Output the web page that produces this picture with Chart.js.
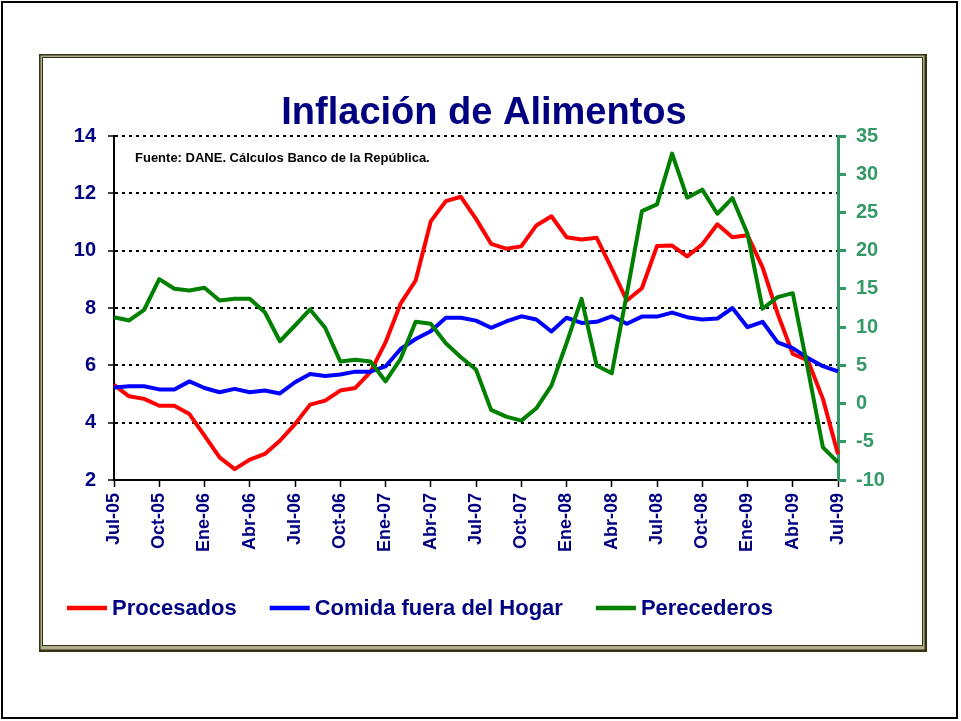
<!DOCTYPE html>
<html>
<head>
<meta charset="utf-8">
<script src="https://cdn.jsdelivr.net/npm/chart.js@4.4.0/dist/chart.umd.min.js"></script>
<style>
html, body { margin: 0; padding: 0; background: #fff; }
canvas { display: block; }
</style>
</head>
<body>
<canvas id="grafico" width="961" height="721"></canvas>
<script>
// Meses jul-05 a jul-09
var meses = [
    "Jul-05", "Ago-05", "Sep-05", "Oct-05", "Nov-05", "Dic-05",
    "Ene-06", "Feb-06", "Mar-06", "Abr-06", "May-06", "Jun-06",
    "Jul-06", "Ago-06", "Sep-06", "Oct-06", "Nov-06", "Dic-06",
    "Ene-07", "Feb-07", "Mar-07", "Abr-07", "May-07", "Jun-07",
    "Jul-07", "Ago-07", "Sep-07", "Oct-07", "Nov-07", "Dic-07",
    "Ene-08", "Feb-08", "Mar-08", "Abr-08", "May-08", "Jun-08",
    "Jul-08", "Ago-08", "Sep-08", "Oct-08", "Nov-08", "Dic-08",
    "Ene-09", "Feb-09", "Mar-09", "Abr-09", "May-09", "Jun-09",
    "Jul-09"
];

// Eje izquierdo
var procesados = [
    5.32, 4.92, 4.83, 4.59, 4.59, 4.30, 3.55, 2.79, 2.38, 2.71,
    2.91, 3.37, 3.95, 4.63, 4.77, 5.12, 5.21, 5.76, 6.80, 8.15,
    8.96, 11.02, 11.73, 11.88, 11.11, 10.24, 10.07, 10.15, 10.88, 11.20,
    10.47, 10.39, 10.45, 9.37, 8.26, 8.69, 10.16, 10.18, 9.80, 10.22,
    10.92, 10.47, 10.54, 9.42, 7.80, 6.40, 6.17, 4.83, 2.90
];
var comidaFuera = [
    5.23, 5.27, 5.27, 5.16, 5.16, 5.44, 5.21, 5.06, 5.18, 5.06,
    5.12, 5.02, 5.41, 5.70, 5.63, 5.68, 5.78, 5.78, 5.96, 6.57,
    6.92, 7.19, 7.66, 7.66, 7.56, 7.31, 7.53, 7.71, 7.60, 7.18,
    7.66, 7.48, 7.52, 7.71, 7.45, 7.70, 7.70, 7.84, 7.68, 7.60,
    7.63, 8.00, 7.33, 7.52, 6.80, 6.60, 6.26, 5.97, 5.79
];
// Eje derecho
var perecederos = [
    11.30, 10.87, 12.27, 16.27, 15.02, 14.80, 15.15, 13.48, 13.70, 13.70,
    11.95, 8.15, 10.21, 12.31, 9.91, 5.50, 5.72, 5.50, 2.91, 5.85,
    10.69, 10.43, 7.89, 6.06, 4.45, -0.83, -1.71, -2.23, -0.62, 2.35,
    7.89, 13.70, 4.97, 3.96, 14.36, 25.18, 26.05, 32.69, 26.93, 27.98,
    24.83, 26.88, 22.22, 12.40, 13.92, 14.44, 4.54, -5.73, -7.69
];

var ejeIzq = [2, 14, 2];    // min, max, paso
var ejeDer = [-10, 35, 5];

var AZUL_TEXTO = "#000080",
    VERDE_EJE = "#339966",
    FUENTE = "Arial, 'Liberation Sans', sans-serif";

// Marcos, titulo, fuente y leyenda
var decoracion = {
    id: "decoracion",
    beforeDraw: function(chart) {
        var c = chart.ctx;
        c.save();
        c.fillStyle = "#fff";
        c.fillRect(0, 0, chart.width, chart.height);
        c.strokeStyle = "#000";
        c.lineWidth = 2;
        c.strokeRect(2, 2, 955, 716);
        // caja interior con borde doble
        c.fillStyle = "#333311";
        c.fillRect(39, 54, 888, 598);
        c.fillStyle = "#b0b090";
        c.fillRect(40.5, 55.5, 884, 594);
        c.fillStyle = "#333311";
        c.fillRect(42, 57, 881, 589);
        c.fillStyle = "#fff";
        c.fillRect(43, 58, 879, 587);
        c.restore();
    },
    afterDraw: function(chart) {
        var c = chart.ctx, x, i, ds, w;
        c.save();
        c.fillStyle = AZUL_TEXTO;
        c.textAlign = "center";
        c.textBaseline = "alphabetic";
        c.font = "bold 38px " + FUENTE;
        c.fillText("Inflación de Alimentos", 484, 124);

        c.fillStyle = "#000";
        c.textAlign = "left";
        c.font = "bold 13px " + FUENTE;
        c.fillText("Fuente: DANE. Cálculos Banco de la República.", 135, 162);

        // leyenda
        c.font = "bold 22px " + FUENTE;
        c.textBaseline = "middle";
        x = 67;
        for (i = 0; i < chart.data.datasets.length; i++) {
            ds = chart.data.datasets[i];
            c.strokeStyle = ds.borderColor;
            c.lineWidth = 4.5;
            c.beginPath();
            c.moveTo(x, 608);
            c.lineTo(x + 40, 608);
            c.stroke();
            c.fillStyle = AZUL_TEXTO;
            c.fillText(ds.label, x + 45, 609);
            w = c.measureText(ds.label).width;
            x = x + 45 + w + 33;
        }
        c.restore();
    }
};

new Chart(document.getElementById("grafico"), {
    type: "line",
    data: {
        labels: meses,
        datasets: [
            { label: "Procesados", data: procesados, borderColor: "#ff0000", yAxisID: "y", order: 3 },
            { label: "Comida fuera del Hogar", data: comidaFuera, borderColor: "#0000ff", yAxisID: "y", order: 2 },
            { label: "Perecederos", data: perecederos, borderColor: "#008000", yAxisID: "y1", order: 1 }
        ]
    },
    options: {
        responsive: false,
        devicePixelRatio: 1,
        animation: false,
        layout: { padding: { left: 74, right: 73, top: 136, bottom: 166 } },
        elements: {
            line: { borderWidth: 4, tension: 0, borderJoinStyle: "round" },
            point: { radius: 0 }
        },
        plugins: {
            legend: { display: false },
            title: { display: false },
            tooltip: { enabled: false }
        },
        scales: {
            x: {
                type: "category",
                grid: {
                    drawOnChartArea: false,
                    tickLength: 7,
                    tickWidth: 1.5,
                    tickColor: function(ctx) { return ctx.index % 3 === 0 ? "#000" : "rgba(0,0,0,0)"; }
                },
                border: { color: "#000", width: 2 },
                ticks: {
                    autoSkip: false,
                    maxRotation: 90,
                    minRotation: 90,
                    padding: 6,
                    color: AZUL_TEXTO,
                    font: { family: FUENTE, weight: "bold", size: 18 },
                    callback: function(v, i) { return i % 3 === 0 ? meses[i] : ""; }
                },
                afterFit: function(s) { s.height = 75; }
            },
            y: {
                position: "left",
                min: ejeIzq[0],
                max: ejeIzq[1],
                grid: {
                    color: "#000",
                    lineWidth: 2,
                    tickLength: 6,
                    tickWidth: 1.5,
                    tickColor: "#000"
                },
                border: { color: "#000", width: 2, dash: [3, 4] },
                ticks: {
                    stepSize: ejeIzq[2],
                    padding: 12,
                    color: AZUL_TEXTO,
                    font: { family: FUENTE, weight: "bold", size: 20 }
                },
                afterFit: function(s) { s.width = 40; }
            },
            y1: {
                position: "right",
                min: ejeDer[0],
                max: ejeDer[1],
                grid: {
                    drawOnChartArea: false,
                    tickLength: 8,
                    tickWidth: 3,
                    tickColor: VERDE_EJE
                },
                border: { color: VERDE_EJE, width: 3 },
                ticks: {
                    stepSize: ejeDer[2],
                    padding: 10,
                    color: VERDE_EJE,
                    font: { family: FUENTE, weight: "bold", size: 20 }
                },
                afterFit: function(s) { s.width = 50; }
            }
        }
    },
    plugins: [decoracion]
});
</script>
</body>
</html>
